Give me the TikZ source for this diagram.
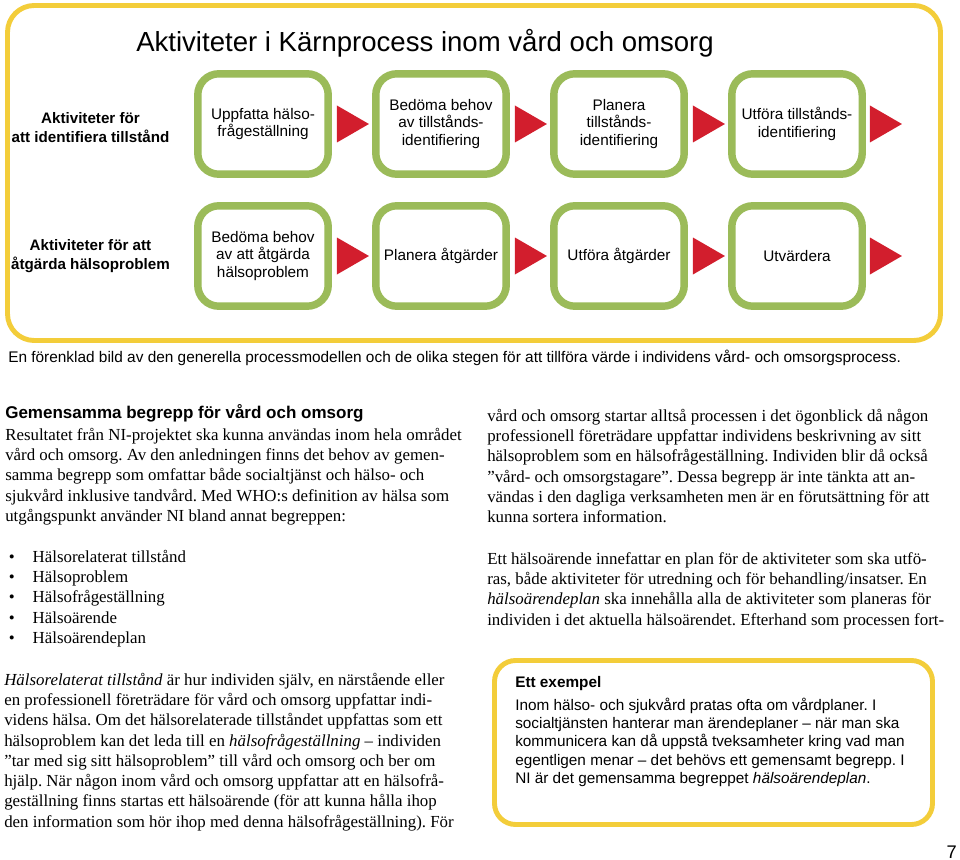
\documentclass[tikz,border=0pt]{standalone}
\usepackage{fontspec}
\setmainfont{Liberation Serif}
\newfontfamily\arialfont{Liberation Sans}
\usetikzlibrary{calc}
\definecolor{kgul}{RGB}{243,205,58}
\definecolor{kgron}{RGB}{155,187,89}
\definecolor{krod}{RGB}{210,30,45}
\frenchspacing
\newcommand{\bul}{\makebox[19.5pt][l]{\hspace{2.5pt}\textbullet}}
\tikzstyle{stepbox}=[draw=kgron, line width=5.3pt, rounded corners=15pt, fill=white, minimum width=3.26cm, minimum height=2.51cm, align=center, inner sep=2pt, font=\arialfont\fontsize{10.9}{12.6}\selectfont]
\tikzstyle{radtext}=[align=center, inner sep=0pt, font=\arialfont\bfseries\fontsize{10.8}{13.5}\selectfont]
% base = baseline of the last line
\tikzstyle{brodtext}=[anchor=base west, align=left, inner sep=0pt, font=\fontsize{12}{14.4}\selectfont]
\tikzstyle{pil}=[fill=krod]

\begin{document}
\begin{tikzpicture}[x=0.025cm, y=-0.025cm]
\useasboundingbox (0,0) rectangle (960,860);

% ram + rubrik
	\draw[kgul, line width=3.5pt, rounded corners=19pt] (7.5,5.5) rectangle (940.5,340.5);
	\node[anchor=base, inner sep=0pt, font=\arialfont\fontsize{19.6}{23}\selectfont] (rubrik) at (425,52) {Aktiviteter i Kärnprocess inom vård och omsorg};

% identifiera tillstånd
	\node[radtext] (rad1) at (90.5,128) {Aktiviteter för\\att identifiera tillstånd};
	\node[stepbox] (id1) at (263,124) {Uppfatta hälso-\\frågeställning};
	\node[stepbox] (id2) at (441,124) {Bedöma behov\\av tillstånds-\\identifiering};
	\node[stepbox] (id3) at (619,124) {Planera\\tillstånds-\\identifiering};
	\node[stepbox] (id4) at (797,124) {Utföra tillstånds-\\identifiering};

	\fill[pil] ($(id1.east)+(5,-18.5)$) -- ++(32,18.5) -- ++(-32,18.5) -- cycle;
	\fill[pil] ($(id2.east)+(5,-18.5)$) -- ++(32,18.5) -- ++(-32,18.5) -- cycle;
	\fill[pil] ($(id3.east)+(5,-18.5)$) -- ++(32,18.5) -- ++(-32,18.5) -- cycle;
	\fill[pil] ($(id4.east)+(4,-18.5)$) -- ++(32,18.5) -- ++(-32,18.5) -- cycle;

% åtgärda hälsoproblem
	\node[radtext] (rad2) at (90.5,256) {Aktiviteter för att\\åtgärda hälsoproblem};
	\node[stepbox] (atg1) at (263,256) {Bedöma behov\\av att åtgärda\\hälsoproblem};
	\node[stepbox] (atg2) at (441,256) {Planera åtgärder};
	\node[stepbox] (atg3) at (619,256) {Utföra åtgärder};
	\node[stepbox] (atg4) at (797,256) {Utvärdera};

	\fill[pil] ($(atg1.east)+(5,-18.5)$) -- ++(32,18.5) -- ++(-32,18.5) -- cycle;
	\fill[pil] ($(atg2.east)+(5,-18.5)$) -- ++(32,18.5) -- ++(-32,18.5) -- cycle;
	\fill[pil] ($(atg3.east)+(5,-18.5)$) -- ++(32,18.5) -- ++(-32,18.5) -- cycle;
	\fill[pil] ($(atg4.east)+(4,-18.5)$) -- ++(32,18.5) -- ++(-32,18.5) -- cycle;

	\node[anchor=base west, inner sep=0pt, font=\arialfont\fontsize{10.95}{13}\selectfont] (bildtext) at (8,362) {En förenklad bild av den generella processmodellen och de olika stegen för att tillföra värde i individens vård- och omsorgsprocess.};

% vänster spalt
	\node[anchor=base west, inner sep=0pt, font=\arialfont\bfseries\fontsize{12.1}{14}\selectfont] (begrepp) at (5,418) {Gemensamma begrepp för vård och omsorg};
	\node[brodtext] (resultat) at (5,521.3) {Resultatet från NI-projektet ska kunna användas inom hela området\\vård och omsorg. Av den anledningen finns det behov av gemen-\\samma begrepp som omfattar både socialtjänst och hälso- och\\sjukvård inklusive tandvård. Med WHO:s definition av hälsa som\\utgångspunkt använder NI bland annat begreppen:};
	\node[brodtext] (lista) at (5,643.3) {\bul Hälsorelaterat tillstånd\\\bul Hälsoproblem\\\bul Hälsofrågeställning\\\bul Hälsoärende\\\bul Hälsoärendeplan};
	\node[brodtext] (tillstand) at (4,827.2) {\textit{Hälsorelaterat tillstånd} är hur individen själv, en närstående eller\\en professionell företrädare för vård och omsorg uppfattar indi-\\videns hälsa. Om det hälsorelaterade tillståndet uppfattas som ett\\hälsoproblem kan det leda till en \textit{hälsofrågeställning} – individen\\”tar med sig sitt hälsoproblem” till vård och omsorg och ber om\\hjälp. När någon inom vård och omsorg uppfattar att en hälsofrå-\\geställning finns startas ett hälsoärende (för att kunna hålla ihop\\den information som hör ihop med denna hälsofrågeställning). För};

% höger spalt
	\node[brodtext] (process) at (487,522.6) {vård och omsorg startar alltså processen i det ögonblick då någon\\professionell företrädare uppfattar individens beskrivning av sitt\\hälsoproblem som en hälsofrågeställning. Individen blir då också\\”vård- och omsorgstagare”. Dessa begrepp är inte tänkta att an-\\vändas i den dagliga verksamheten men är en förutsättning för att\\kunna sortera information.};
	\node[brodtext] (arende) at (487,625) {Ett hälsoärende innefattar en plan för de aktiviteter som ska utfö-\\ras, både aktiviteter för utredning och för behandling/insatser. En\\\textit{hälsoärendeplan} ska innehålla alla de aktiviteter som planeras för\\individen i det aktuella hälsoärendet. Efterhand som processen fort-};

% exempel
	\draw[kgul, line width=3.5pt, rounded corners=15pt] (494.5,660.5) rectangle (932.5,824.5);
	\node[anchor=base west, inner sep=0pt, font=\arialfont\bfseries\fontsize{10.9}{13}\selectfont] (exrubrik) at (515,687) {Ett exempel};
	\node[anchor=base west, align=left, inner sep=0pt, font=\arialfont\fontsize{10.9}{13}\selectfont] (extext) at (515,783.4) {Inom hälso- och sjukvård pratas ofta om vårdplaner. I\\socialtjänsten hanterar man ärendeplaner – när man ska\\kommunicera kan då uppstå tveksamheter kring vad man\\egentligen menar – det behövs ett gemensamt begrepp. I\\NI är det gemensamma begreppet \textit{hälsoärendeplan}.};

	\node[anchor=base east, inner sep=0pt, font=\arialfont\fontsize{13}{15}\selectfont] (sida) at (957,858) {7};

\end{tikzpicture}
\end{document}
